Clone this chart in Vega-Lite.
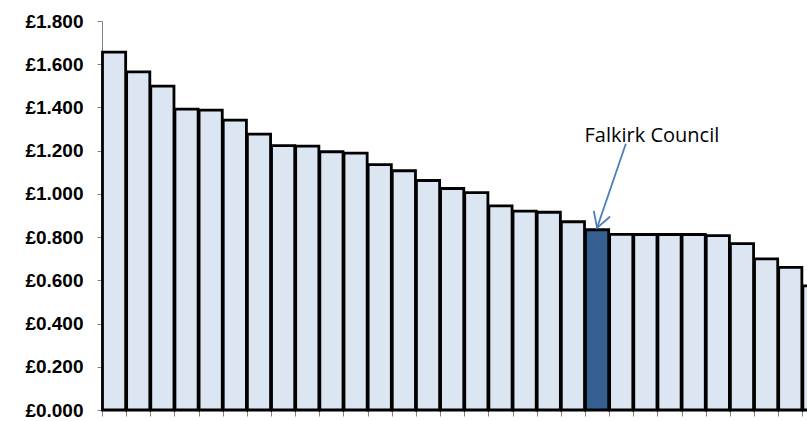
{
  "$schema": "https://vega.github.io/schema/vega-lite/v6.json",
  "width": 705,
  "height": 389,
  "autosize": "none",
  "padding": {"left": 102, "top": 21, "right": 0, "bottom": 11},
  "background": "white",
  "config": {"view": {"stroke": null}},
  "datasets": {
    "costs": [
      {"council": "Council 1", "cost": 1.656},
      {"council": "Council 2", "cost": 1.565},
      {"council": "Council 3", "cost": 1.499},
      {"council": "Council 4", "cost": 1.392},
      {"council": "Council 5", "cost": 1.388},
      {"council": "Council 6", "cost": 1.341},
      {"council": "Council 7", "cost": 1.277},
      {"council": "Council 8", "cost": 1.223},
      {"council": "Council 9", "cost": 1.221},
      {"council": "Council 10", "cost": 1.195},
      {"council": "Council 11", "cost": 1.189},
      {"council": "Council 12", "cost": 1.135},
      {"council": "Council 13", "cost": 1.107},
      {"council": "Council 14", "cost": 1.062},
      {"council": "Council 15", "cost": 1.025},
      {"council": "Council 16", "cost": 1.006},
      {"council": "Council 17", "cost": 0.945},
      {"council": "Council 18", "cost": 0.920},
      {"council": "Council 19", "cost": 0.915},
      {"council": "Council 20", "cost": 0.871},
      {"council": "Falkirk Council", "cost": 0.834},
      {"council": "Council 22", "cost": 0.813},
      {"council": "Council 23", "cost": 0.812},
      {"council": "Council 24", "cost": 0.812},
      {"council": "Council 25", "cost": 0.812},
      {"council": "Council 26", "cost": 0.807},
      {"council": "Council 27", "cost": 0.770},
      {"council": "Council 28", "cost": 0.699},
      {"council": "Council 29", "cost": 0.660},
      {"council": "Council 30", "cost": 0.574}
    ],
    "arrow": [
      {"from": "Council 22", "to": "Falkirk Council", "cost_from": 1.232, "cost_to": 0.843}
    ],
    "label": [
      {"council": "Council 23", "cost": 1.24, "text": "Falkirk Council"}
    ]
  },
  "layer": [
    {
      "data": {"name": "costs"},
      "mark": {"type": "bar", "stroke": "black", "strokeWidth": 2.8},
      "encoding": {
        "x": {
          "field": "council",
          "type": "nominal",
          "scale": {
            "domain": ["Council 1", "Council 2", "Council 3", "Council 4", "Council 5", "Council 6", "Council 7", "Council 8", "Council 9", "Council 10", "Council 11", "Council 12", "Council 13", "Council 14", "Council 15", "Council 16", "Council 17", "Council 18", "Council 19", "Council 20", "Falkirk Council", "Council 22", "Council 23", "Council 24", "Council 25", "Council 26", "Council 27", "Council 28", "Council 29", "Council 30"],
            "range": [0, 724.5],
            "paddingInner": 0.04,
            "paddingOuter": 0.02
          },
          "axis": {
            "title": null,
            "labels": false,
            "bandPosition": 0,
            "tickSize": 6,
            "domainColor": "#808080",
            "tickColor": "#808080",
            "grid": false
          }
        },
        "y": {
          "field": "cost",
          "type": "quantitative",
          "scale": {"domain": [0, 1.8], "nice": false},
          "axis": {
            "title": null,
            "values": [0, 0.2, 0.4, 0.6, 0.8, 1.0, 1.2, 1.4, 1.6, 1.8],
            "labelExpr": "'£' + format(datum.value, '.3f')",
            "labelFont": "Liberation Sans",
            "labelFontWeight": "bold",
            "labelFontSize": 19,
            "labelColor": "black",
            "labelPadding": 14,
            "tickSize": 5,
            "domainColor": "#808080",
            "tickColor": "#808080",
            "grid": false
          }
        },
        "fill": {
          "condition": {"test": "datum.council === 'Falkirk Council'", "value": "#376092"},
          "value": "#DCE6F2"
        }
      }
    },
    {
      "data": {"name": "arrow"},
      "mark": {"type": "rule", "color": "#4A7EBB", "strokeWidth": 1.8},
      "encoding": {
        "x": {"field": "from", "type": "nominal", "bandPosition": 0.7},
        "x2": {"field": "to", "bandPosition": 0.5},
        "y": {"field": "cost_from", "type": "quantitative"},
        "y2": {"field": "cost_to"}
      }
    },
    {
      "data": {"name": "arrow"},
      "mark": {"type": "point", "shape": "M-0.5,-0.866L0,0L0.5,-0.866", "filled": false, "angle": 19, "size": 1200, "stroke": "#4A7EBB", "strokeWidth": 1.8, "opacity": 1},
      "encoding": {
        "x": {"field": "to", "type": "nominal", "bandPosition": 0.5},
        "y": {"field": "cost_to", "type": "quantitative"}
      }
    },
    {
      "data": {"name": "label"},
      "mark": {"type": "text", "font": "Open Sans", "fontSize": 20, "align": "center", "baseline": "alphabetic", "color": "black"},
      "encoding": {
        "x": {"field": "council", "type": "nominal", "bandPosition": 0.78},
        "y": {"field": "cost", "type": "quantitative"},
        "text": {"field": "text"}
      }
    }
  ]
}
